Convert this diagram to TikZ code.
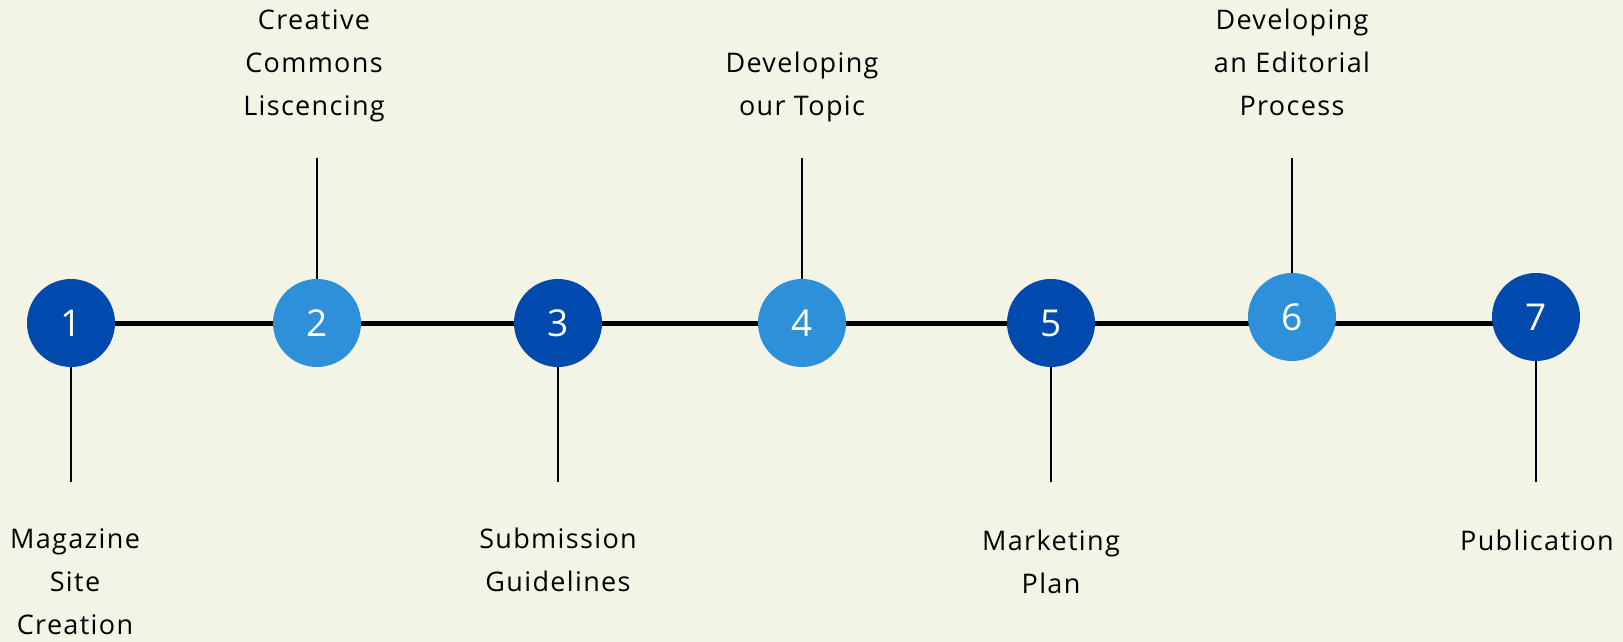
\documentclass[tikz,border=0pt]{standalone}
\usepackage{fontspec}
\setmainfont{Open Sans}
\newfontfamily\labelfont[LetterSpace=5]{Open Sans}
\usetikzlibrary{backgrounds}
\definecolor{bgcol}{HTML}{F4F4E6}
\definecolor{darkblue}{HTML}{004AAD}
\definecolor{lightblue}{HTML}{2E90D8}
\newcommand\tstrut{\rule{0pt}{20.5pt}}
\begin{document}
\begin{tikzpicture}[x=1pt,y=-1pt,
  stepcircle/.style={circle, minimum size=88pt, inner sep=0pt, text=white,
    font={\fontsize{37}{40}\selectfont}},
  darkstep/.style={stepcircle, fill=darkblue},
  lightstep/.style={stepcircle, fill=lightblue},
  steplabel/.style={align=center, inner sep=0pt, anchor=north, text=black,
    font={\labelfont\fontsize{27}{43}\selectfont}},
  mainline/.style={line width=5pt, black},
  tickline/.style={line width=2.7pt, black}]
\useasboundingbox (0,0) rectangle (1623,642);

\node[darkstep]  (c1) at (71,323)   {\raisebox{-3pt}{1}};
\node[lightstep] (c2) at (317,323)  {\raisebox{-3pt}{2}};
\node[darkstep]  (c3) at (558,323)  {\raisebox{-3pt}{3}};
\node[lightstep] (c4) at (802,323)  {\raisebox{-3pt}{4}};
\node[darkstep]  (c5) at (1051,323) {\raisebox{-3pt}{5}};
\node[lightstep] (c6) at (1292,317) {\raisebox{-3pt}{6}};
\node[darkstep]  (c7) at (1536,317) {\raisebox{-3pt}{7}};

\begin{scope}[on background layer]
  \fill[bgcol] (0,0) rectangle (1623,642);
  \draw[mainline] (c1.center) -- (c1.center -| c7.center);
\end{scope}

\coordinate (e1) at (71,482);
\coordinate (e2) at (317,158);
\coordinate (e3) at (558,482);
\coordinate (e4) at (802,158);
\coordinate (e5) at (1051,482);
\coordinate (e6) at (1292,158);
\coordinate (e7) at (1536,482);

\draw[tickline] (c1.south) -- (e1);
\draw[tickline] (c2.north) -- (e2);
\draw[tickline] (c3.south) -- (e3);
\draw[tickline] (c4.north) -- (e4);
\draw[tickline] (c5.south) -- (e5);
\draw[tickline] (c6.north) -- (e6);
\draw[tickline] (c7.south) -- (e7);

\node[steplabel] (l1) at (75,528)   {\tstrut Magazine\\Site\\Creation};
\node[steplabel] (l2) at (314,9)    {\tstrut Creative\\Commons\\Liscencing};
\node[steplabel] (l3) at (558,528)  {\tstrut Submission\\Guidelines};
\node[steplabel] (l4) at (802,52)   {\tstrut Developing\\our Topic};
\node[steplabel] (l5) at (1051,530) {\tstrut Marketing\\Plan};
\node[steplabel] (l6) at (1292,9)   {\tstrut Developing\\an Editorial\\Process};
\node[steplabel] (l7) at (1537,530) {\tstrut Publication};
\end{tikzpicture}
\end{document}
